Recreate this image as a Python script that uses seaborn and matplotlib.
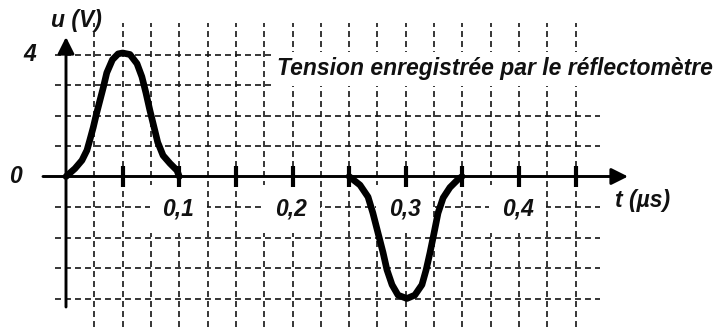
import matplotlib
matplotlib.use("Agg")
import matplotlib.pyplot as plt
import seaborn as sns
import pandas as pd

# ---- data ----
t_pos = [0.0, 0.0079, 0.0141, 0.0185, 0.021, 0.024, 0.027, 0.030, 0.033, 0.036,
         0.041, 0.046, 0.050, 0.0565, 0.0627, 0.067, 0.0706, 0.074, 0.0777,
         0.081, 0.0857, 0.0918, 0.098, 0.100]
u_pos = [0.0, 0.26, 0.53, 0.86, 1.19, 1.6, 2.07, 2.5, 2.93, 3.4,
         3.83, 4.02, 4.05, 4.0, 3.7, 3.27, 2.74, 2.18, 1.62,
         1.12, 0.69, 0.43, 0.2, 0.0]
t_neg = [0.25, 0.2596, 0.2667, 0.271, 0.2755, 0.28, 0.2834, 0.2879, 0.2932,
         0.301, 0.308, 0.3143, 0.318, 0.3214, 0.325, 0.3285, 0.333, 0.339,
         0.346, 0.3497]
u_neg = [0.0, -0.28, -0.67, -1.2, -1.85, -2.5, -3.06, -3.55, -3.89,
         -4.0, -3.89, -3.55, -3.06, -2.5, -1.85, -1.2, -0.7, -0.36,
         -0.1, 0.0]
x_major = [0.05, 0.10, 0.15, 0.20, 0.25, 0.30, 0.35, 0.40, 0.45]
x_grid = [0.025, 0.05, 0.075, 0.10, 0.125, 0.15, 0.175, 0.20, 0.225, 0.25,
          0.275, 0.30, 0.325, 0.35, 0.375, 0.40, 0.425, 0.45]
y_grid = [-4, -3, -2, -1, 1, 2, 3, 4]
x_labels = {0.1: "0,1", 0.2: "0,2", 0.3: "0,3", 0.4: "0,4"}
y_labels = {4: "4", 0: "0"}
title = "Tension enregistrée par le réflectomètre"
xlabel = "t (µs)"
ylabel = "u (V)"

sns.set_theme(style="white")
plt.rcParams["font.family"] = ["Liberation Sans", "DejaVu Sans"]
plt.rcParams["lines.scale_dashes"] = False

W, H = 720, 327
fig = plt.figure(figsize=(W / 100, H / 100), dpi=100)
# pixel geometry of the plotting area
px_l, px_r, px_t, px_b = 55, 600, 23, 327
ax = fig.add_axes([px_l / W, 1 - px_b / H, (px_r - px_l) / W, (px_b - px_t) / H])

x0_px, sx = 66.0, 1132.5      # pixel of t=0, pixels per µs
y0_px, sy = 176.5, 30.5       # pixel of u=0, pixels per V
def tx(px):
    return (px - x0_px) / sx
def uy(py):
    return (y0_px - py) / sy

ax.set_xlim(tx(px_l), tx(px_r))
ax.set_ylim(uy(px_b), uy(px_t))
sns.despine(ax=ax, left=True, bottom=True, top=True, right=True)
ax.set_xticks(x_grid)
ax.set_yticks(y_grid)
ax.tick_params(length=0, labelbottom=False, labelleft=False)
ax.set_axisbelow(True)
ax.grid(True, color="#141414", lw=1.2, ls=(0, (4.3, 2.9)))

# axes with arrows
arrow = dict(arrowstyle="-|>,head_length=0.5,head_width=0.25",
             lw=2.1, color="black", mutation_scale=20, shrinkA=0, shrinkB=0)
ax.annotate("", xy=(tx(628), 0), xytext=(tx(43), 0), arrowprops=arrow,
            annotation_clip=False, zorder=4)
ax.annotate("", xy=(0, uy(37)), xytext=(0, uy(307)), arrowprops=arrow,
            annotation_clip=False, zorder=4)

# thick tick marks on the time axis
ax.vlines(x_major, -0.34, 0.34, color="black", lw=3.0, zorder=4)

# curves
df_pos = pd.DataFrame({"t": t_pos, "u": u_pos})
df_neg = pd.DataFrame({"t": t_neg, "u": u_neg})
for df in (df_pos, df_neg):
    sns.lineplot(data=df, x="t", y="u", sort=False, estimator=None, ax=ax,
                 color="black", lw=4.8, zorder=6,
                 solid_joinstyle="round", solid_capstyle="round")
ax.set_xlabel("")
ax.set_ylabel("")

fs = 16.5
bold_it = dict(fontweight="bold", fontstyle="italic", color="#111111")
for xv, lab in x_labels.items():
    ax.text(xv - 0.001, uy(209), lab, ha="center", va="center", fontsize=fs,
            zorder=3, bbox=dict(boxstyle="square,pad=0.55", fc="white", ec="none"),
            **bold_it)
for yv, lab in y_labels.items():
    xp = 30 if yv == 4 else 15
    ax.text(tx(xp), yv, lab, ha="center", va="center", fontsize=fs, **bold_it)
ax.text(tx(76), uy(21), ylabel, ha="center", va="center", fontsize=fs, **bold_it)
ax.text(tx(643), uy(200), xlabel, ha="center", va="center", fontsize=fs, **bold_it)
ax.text(tx(494.5), uy(69), title, ha="center", va="center", fontsize=fs,
        zorder=3, bbox=dict(boxstyle="square,pad=0.25", fc="white", ec="none"),
        **bold_it)

fig.savefig("out.png", dpi=100)
